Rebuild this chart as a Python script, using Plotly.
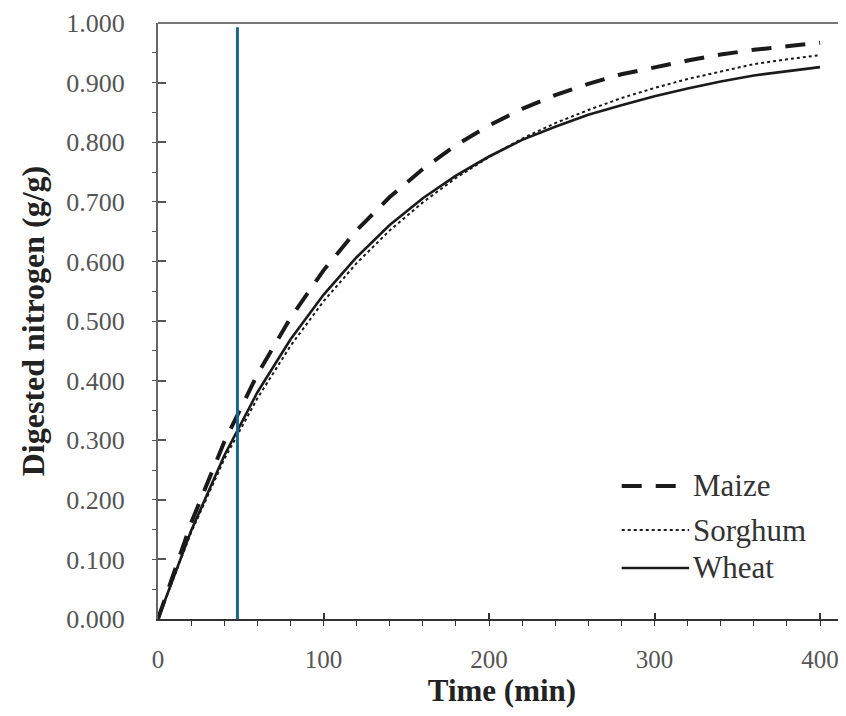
import plotly.graph_objects as go

time_min = [0, 20, 40, 60, 80, 100, 120, 140, 160, 180, 200, 220, 240, 260, 280, 300, 320, 340, 360, 380, 400]
maize = [0.000, 0.161, 0.297, 0.410, 0.505, 0.585, 0.652, 0.708, 0.755, 0.795, 0.828, 0.856, 0.879, 0.898, 0.914, 0.926, 0.937, 0.947, 0.955, 0.961, 0.967]
sorghum = [0.000, 0.145, 0.268, 0.370, 0.458, 0.533, 0.597, 0.652, 0.699, 0.740, 0.775, 0.806, 0.832, 0.854, 0.874, 0.891, 0.906, 0.919, 0.931, 0.939, 0.946]
wheat = [0.000, 0.148, 0.274, 0.380, 0.469, 0.544, 0.607, 0.661, 0.706, 0.744, 0.776, 0.804, 0.826, 0.846, 0.862, 0.877, 0.890, 0.902, 0.912, 0.919, 0.926]
marker_time = 48
marker_span = [0.0, 0.993]

series_names = ["Maize", "Sorghum", "Wheat"]
y_ticks = [0.0, 0.1, 0.2, 0.3, 0.4, 0.5, 0.6, 0.7, 0.8, 0.9, 1.0]
y_tick_text = ["0.000", "0.100", "0.200", "0.300", "0.400", "0.500", "0.600", "0.700", "0.800", "0.900", "1.000"]
x_ticks = [0, 100, 200, 300, 400]

FONT = "'Liberation Serif', 'Times New Roman', Times, serif"
INK = "#1a1a1a"
GREY = "#555555"

fig = go.Figure()
fig.add_trace(go.Scatter(x=time_min, y=sorghum, mode="lines", name=series_names[1],
                         line=dict(color=INK, width=2, dash="dot"), showlegend=False))
fig.add_trace(go.Scatter(x=time_min, y=wheat, mode="lines", name=series_names[2],
                         line=dict(color=INK, width=2.6), showlegend=False))
fig.add_trace(go.Scatter(x=time_min, y=maize, mode="lines", name=series_names[0],
                         line=dict(color=INK, width=4, dash="20px,14px"), showlegend=False))
fig.add_trace(go.Scatter(x=[marker_time, marker_time], y=marker_span, mode="lines",
                         line=dict(color="#1b6690", width=3), showlegend=False))

# custom legend (layout elements), plot area spans x 158..846, y 23..619 px
leg_rows = [(0.2232, "20px,14px", 4), (0.1493, "dot", 2), (0.0856, "solid", 2.6)]
for (yy, dash, w), name in zip(leg_rows, series_names):
    fig.add_shape(type="line", xref="paper", yref="paper", x0=0.674, x1=0.772, y0=yy, y1=yy,
                  line=dict(color=INK, width=w, dash=dash))
    fig.add_annotation(xref="paper", yref="paper", x=0.7745, y=yy, text=name, showarrow=False,
                       xanchor="left", yanchor="middle",
                       font=dict(family=FONT, size=31, color="#333333"))

# the page body has an 8px default margin, so offsets compensate for it
fig.update_layout(
    width=846, height=716,
    margin=dict(l=150, r=8, t=15, b=105),
    paper_bgcolor="white", plot_bgcolor="white",
    font=dict(family=FONT, color=GREY, size=25),
)
fig.update_xaxes(
    range=[0, 415.7], showgrid=False, zeroline=False, automargin=False,
    showline=True, linecolor="#333333", linewidth=2,
    tickvals=x_ticks, ticks="inside", ticklen=6, tickwidth=1.5, tickcolor="#333333",
    ticklabelstandoff=17,
    minor=dict(dtick=20, ticks="outside", ticklen=5, tickwidth=1.2, tickcolor="#333333"),
    tickfont=dict(family=FONT, size=25, color=GREY),
    title=dict(text="<b>Time (min)</b>", font=dict(family=FONT, size=31, color="#222222"), standoff=4),
)
fig.update_yaxes(
    range=[0, 1.0], showgrid=False, zeroline=False, automargin=False,
    showline=True, linecolor="#666666", linewidth=2, mirror=False,
    tickvals=y_ticks, ticktext=y_tick_text, ticks="inside", ticklen=8, tickwidth=1.5, tickcolor="#555555",
    ticklabelstandoff=26,
    minor=dict(dtick=0.05, ticks="outside", ticklen=4, tickwidth=1.2, tickcolor="#555555"),
    tickfont=dict(family=FONT, size=26, color=GREY),
    title=dict(text="<b>Digested nitrogen (g/g)</b>", font=dict(family=FONT, size=32, color="#222222"), standoff=12),
)
# top frame line
fig.add_shape(type="line", xref="paper", yref="paper", x0=0, x1=1, y0=1, y1=1,
              line=dict(color="#777777", width=2))

fig.write_html("out.html")
